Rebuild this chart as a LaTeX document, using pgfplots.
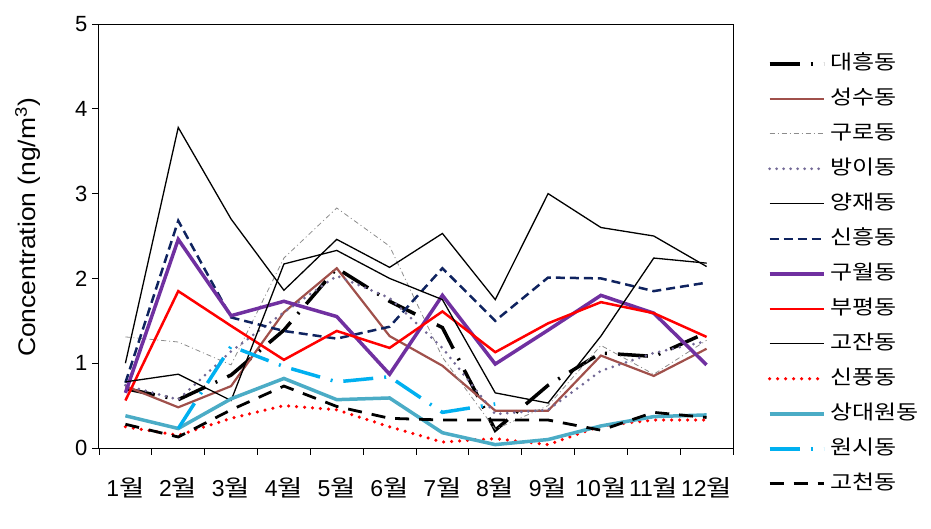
\documentclass[border=0pt]{standalone}
\usepackage{fontspec}
\setmainfont{Liberation Sans}
\newfontfamily\kr{Noto Sans CJK KR}
\newfontfamily\krwide[FakeStretch=1.2]{Noto Sans CJK KR}
\newfontfamily\ylabfont[FakeStretch=1.1]{Liberation Sans}
\usepackage{pgfplots}
\pgfplotsset{compat=1.18}
\usepackage{pgfplotstable}

\definecolor{brownc}{RGB}{160,80,75}
\definecolor{grayc}{RGB}{140,140,140}
\definecolor{dotpur}{RGB}{115,105,150}
\definecolor{navyc}{RGB}{15,35,95}
\definecolor{purc}{RGB}{112,48,160}
\definecolor{tealc}{RGB}{75,172,198}
\definecolor{ltblue}{RGB}{0,176,240}

\pgfplotstableread{
m dh ss gr by yj sh gw bp gj sp sd gc
1  0.70 0.73 1.31 0.74 1.00 0.77 0.65 0.56 0.78 0.25 0.38 0.28
2  0.57 0.48 1.25 0.57 3.78 2.68 2.46 1.85 0.87 0.15 0.23 0.13
3  0.86 0.73 0.98 1.14 2.70 1.54 1.56 1.44 0.56 0.35 0.58 0.45
4  1.39 1.60 2.24 1.60 1.86 1.38 1.73 1.04 2.17 0.50 0.82 0.73
5  2.12 2.12 2.83 2.03 2.46 1.29 1.55 1.38 2.33 0.45 0.57 0.49
6  1.73 1.32 2.38 1.77 2.13 1.43 0.87 1.18 2.00 0.25 0.59 0.35
7  1.42 0.97 1.07 1.18 2.53 2.12 1.80 1.61 1.75 0.07 0.18 0.33
8  0.21 0.44 0.22 0.40 1.75 1.50 0.99 1.13 0.65 0.11 0.04 0.33
9  0.74 0.44 0.50 0.45 3.00 2.01 1.39 1.47 0.53 0.04 0.10 0.33
10 1.12 1.09 1.21 0.91 2.60 2.00 1.80 1.72 1.32 0.26 0.26 0.21
11 1.08 0.85 0.87 1.12 2.50 1.85 1.59 1.59 2.24 0.33 0.37 0.42
12 1.36 1.17 1.27 1.26 2.14 1.95 0.98 1.31 2.18 0.33 0.39 0.36
}\datatable

\pgfplotstableread{
m ws
2 0.23
3 1.20
4 0.96
5 0.78
6 0.84
7 0.42
8 0.52
}\wstable

\begin{document}
\begin{tikzpicture}
\useasboundingbox (-99bp,-81bp) rectangle (832bp,448bp);
\begin{axis}[
  at={(0,0)}, anchor=south west,
  scale only axis, width=634bp, height=424bp,
  xmin=0.5, xmax=12.5, ymin=0, ymax=5,
  xtick={0.5,1.5,...,12.5}, xticklabels={},
  extra x ticks={1,2,...,12},
  extra x tick labels={1{\krwide 월},2{\krwide 월},3{\krwide 월},4{\krwide 월},5{\krwide 월},6{\krwide 월},7{\krwide 월},8{\krwide 월},9{\krwide 월},10{\krwide 월},11{\krwide 월},12{\krwide 월}},
  extra x tick style={major tick length=0pt, tick label style={anchor=center, yshift=-40bp, font=\fontsize{23bp}{26bp}\selectfont}},
  ytick={0,1,2,3,4,5},
  tick align=outside, major tick length=7bp,
  xtick pos=bottom, ytick pos=left,
  tick style={black, line width=0.8bp},
  axis line style={line width=1bp},
  /pgf/number format/assume math mode=true,
  tick label style={font=\fontsize{22bp}{26bp}\selectfont},
  yticklabel style={xshift=-1bp},
  ylabel={Concentration (ng/m\textsuperscript{3})},
  ylabel style={font=\ylabfont\fontsize{24bp}{28bp}\selectfont, at={(axis description cs:-0.112,0.52)}, anchor=center},
  legend cell align=left,
  legend image code/.code={\draw[#1] (0bp,0bp) -- (54bp,0bp);},
  legend style={at={(axis description cs:1.05,0.9385)}, anchor=north west, draw=none, fill=none,
    font=\krwide\fontsize{20bp}{23bp}\selectfont, row sep=12bp,
    nodes={inner sep=2bp, text height=15bp, text depth=4bp},
    /tikz/every odd column/.append style={column sep=3bp}},
]
\addplot[black, line width=3.5bp, dash pattern=on 30bp off 11bp on 2bp off 11bp] table[x=m,y=dh]{\datatable};
\addlegendentry{대흥동}
\addplot[brownc, line width=2.2bp] table[x=m,y=ss]{\datatable};
\addlegendentry{성수동}
\addplot[grayc, line width=0.8bp, dash pattern=on 5bp off 3bp on 1bp off 3bp] table[x=m,y=gr]{\datatable};
\addlegendentry{구로동}
\addplot[dotpur, line width=3bp, line cap=round, dash pattern=on 0bp off 7bp] table[x=m,y=by]{\datatable};
\addlegendentry{방이동}
\addplot[black, line width=1.3bp] table[x=m,y=yj]{\datatable};
\addlegendentry{양재동}
\addplot[navyc, line width=2.5bp, dash pattern=on 9bp off 5bp] table[x=m,y=sh]{\datatable};
\addlegendentry{신흥동}
\addplot[purc, line width=3.5bp] table[x=m,y=gw]{\datatable};
\addlegendentry{구월동}
\addplot[red, line width=2.5bp] table[x=m,y=bp]{\datatable};
\addlegendentry{부평동}
\addplot[black, line width=1.3bp] table[x=m,y=gj]{\datatable};
\addlegendentry{고잔동}
\addplot[red, line width=3.5bp, line cap=round, dash pattern=on 0bp off 8bp] table[x=m,y=sp]{\datatable};
\addlegendentry{신풍동}
\addplot[tealc, line width=3.5bp] table[x=m,y=sd]{\datatable};
\addlegendentry{상대원동}
\addplot[ltblue, line width=3.5bp, dash pattern=on 30bp off 11bp on 2bp off 11bp] table[x=m,y=ws]{\wstable};
\addlegendentry{원시동}
\addplot[black, line width=2.8bp, dash pattern=on 14bp off 10bp] table[x=m,y=gc]{\datatable};
\addlegendentry{고천동}
\end{axis}
\end{tikzpicture}
\end{document}
